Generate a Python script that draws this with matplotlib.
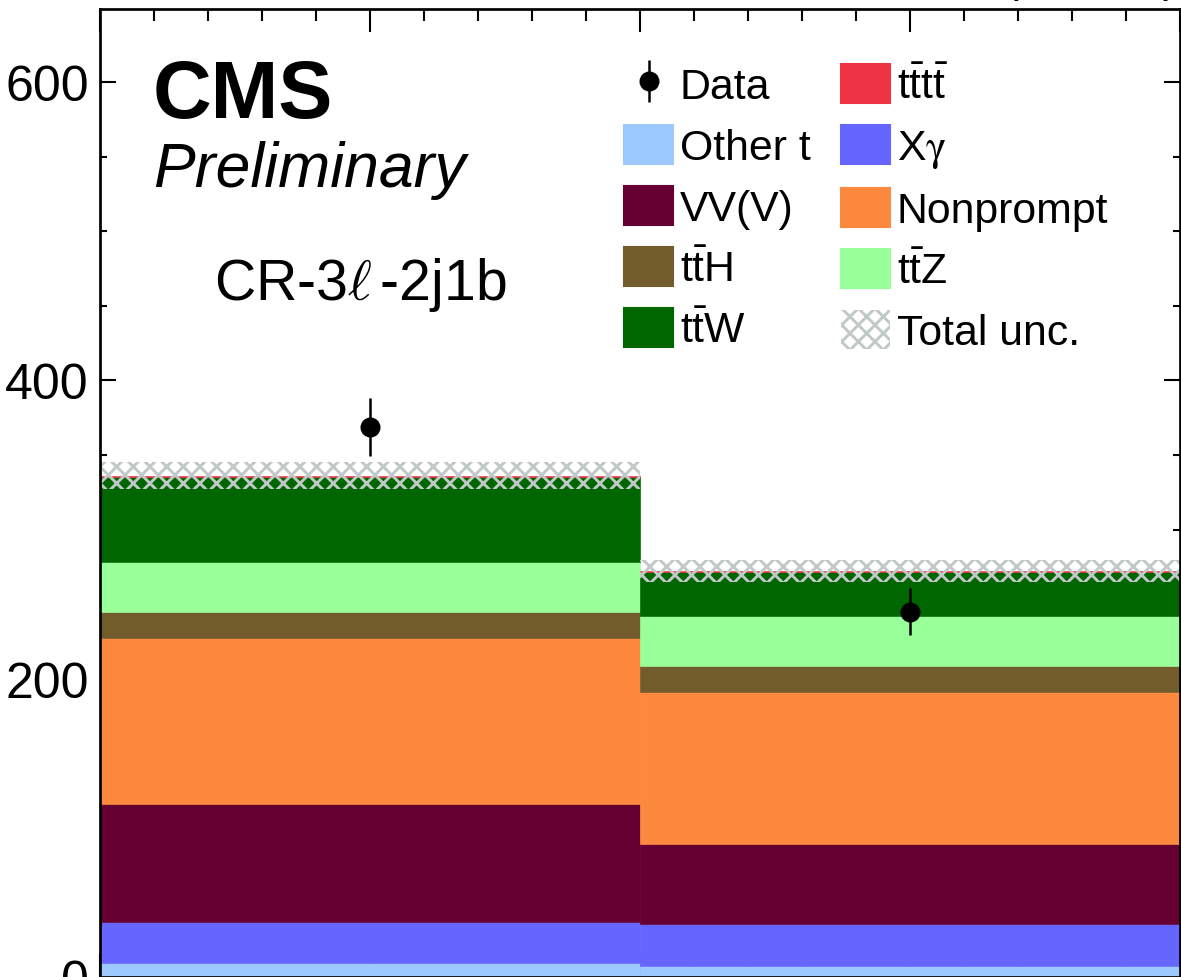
"""
CR-3l-2j1b control region: stacked background yields vs data
"""

import matplotlib
matplotlib.use("Agg")
import matplotlib.pyplot as plt
from matplotlib.patches import Patch
from matplotlib.ticker import MultipleLocator

plt.rcParams["font.family"] = ["Liberation Sans", "DejaVu Sans"]
plt.rcParams["mathtext.fontset"] = "custom"
plt.rcParams["mathtext.rm"] = "Liberation Sans"
plt.rcParams["mathtext.it"] = "Liberation Sans:italic"
plt.rcParams["mathtext.bf"] = "Liberation Sans:bold"
plt.rcParams["mathtext.sf"] = "STIXGeneral"
plt.rcParams["hatch.linewidth"] = 1.4

# Two bins
bin_left = [0, 1]
bin_centers = [0.5, 1.5]

# Stack contents per bin (bottom to top)
other_t = [9.4, 7.2]
xgamma = [27.7, 28.4]
vvv = [79.0, 53.7]
nonprompt = [111.4, 102.0]
tth = [17.5, 17.4]
ttz = [33.5, 33.1]
ttw = [56.7, 29.7]
tttt = [1.0, 0.8]
total_unc = [9.0, 7.4]

# Observed data
data = [369, 245]
data_err = [19.5, 16.0]

lab_tth = r"$\mathrm{t\bar{t}H}$"
lab_ttz = r"$\mathrm{t\bar{t}Z}$"
lab_ttw = r"$\mathrm{t\bar{t}W}$"
lab_tttt = r"$\mathrm{t\bar{t}t\bar{t}}$"
lab_xg = r"X$\mathsf{\gamma}$"

stack = [
    (other_t, "#9ccaff", "Other t"),
    (xgamma, "#6666ff", lab_xg),
    (vvv, "#660033", "VV(V)"),
    (nonprompt, "#fc893e", "Nonprompt"),
    (tth, "#735c2b", lab_tth),
    (ttz, "#99ff99", lab_ttz),
    (ttw, "#006600", lab_ttw),
    (tttt, "#ee3344", lab_tttt),
]
unc_color = "#c0c8c8"

fig = plt.figure(figsize=(1181 / 150, 978 / 150), dpi=150)
ax = fig.add_axes([100 / 1181, 0, 1080 / 1181, 968 / 978])

bottom = [0.0, 0.0]
handles = {}
for vals, col, lab in stack:
    ax.bar(bin_left, vals, width=1, bottom=bottom, align="edge",
           color=col, edgecolor=col, linewidth=0.3, zorder=2)
    handles[lab] = Patch(facecolor=col, edgecolor=col, label=lab)
    bottom = [b + v for b, v in zip(bottom, vals)]

# total uncertainty band
unc_low = [t - u for t, u in zip(bottom, total_unc)]
unc_h = [2 * u for u in total_unc]
ax.bar(bin_left, unc_h, width=1, bottom=unc_low, align="edge",
       fill=False, hatch="xxx", edgecolor=unc_color, linewidth=0, zorder=3)

data_handle = ax.errorbar(bin_centers, data, yerr=data_err, fmt="o",
                          color="black", markersize=8.6, elinewidth=1.2,
                          capsize=0, zorder=5)

ax.set_xlim(0, 2)
ax.set_ylim(0, 649)
ax.xaxis.set_major_locator(MultipleLocator(0.5))
ax.xaxis.set_minor_locator(MultipleLocator(0.1))
ax.yaxis.set_major_locator(MultipleLocator(200))
ax.yaxis.set_minor_locator(MultipleLocator(50))
ax.tick_params(axis="both", which="both", direction="in", top=True, right=True,
               width=1.0, labelsize=24)
ax.tick_params(axis="x", which="major", length=11, labelbottom=False)
ax.tick_params(axis="x", which="minor", length=5.8)
ax.tick_params(axis="y", which="major", length=7.5, pad=5.3)
ax.tick_params(axis="y", which="minor", length=3.5)
for s in ax.spines.values():
    s.set_linewidth(1.3)
    s.set_zorder(6)

fig.text(153 / 1181, 1 - 118 / 978, "CMS", fontsize=39, fontweight="bold")
fig.text(153 / 1181, 1 - 187 / 978, "Preliminary", fontsize=30, style="italic")
fig.text(214 / 1181, 1 - 300 / 978, r"CR-3$\ell\,$-2j1b", fontsize=27.5,
         math_fontfamily="cm")
fig.text(1176 / 1181, 1 + 6.5 / 978, r"138 fb$^{-1}$ (13 TeV)", fontsize=21.5,
         ha="right", va="baseline")

unc_handle = Patch(facecolor="white", edgecolor=unc_color, hatch="xxx",
                   linewidth=0, label="Total unc.")
order = [
    (data_handle, "Data"),
    (handles["Other t"], "Other t"),
    (handles["VV(V)"], "VV(V)"),
    (handles[lab_tth], lab_tth),
    (handles[lab_ttw], lab_ttw),
    (handles[lab_tttt], lab_tttt),
    (handles[lab_xg], lab_xg),
    (handles["Nonprompt"], "Nonprompt"),
    (handles[lab_ttz], lab_ttz),
    (unc_handle, "Total unc."),
]
ax.legend([h for h, _ in order], [l for _, l in order], ncol=2,
          loc="upper left", bbox_to_anchor=(624 / 1181, 1 - 65 / 978),
          bbox_transform=fig.transFigure, frameon=False, fontsize=20.5,
          borderpad=0, borderaxespad=0, handlelength=1.15, handleheight=1.03,
          handletextpad=0.16, columnspacing=0.7, labelspacing=0.42)

fig.savefig("out.png", dpi=150)
